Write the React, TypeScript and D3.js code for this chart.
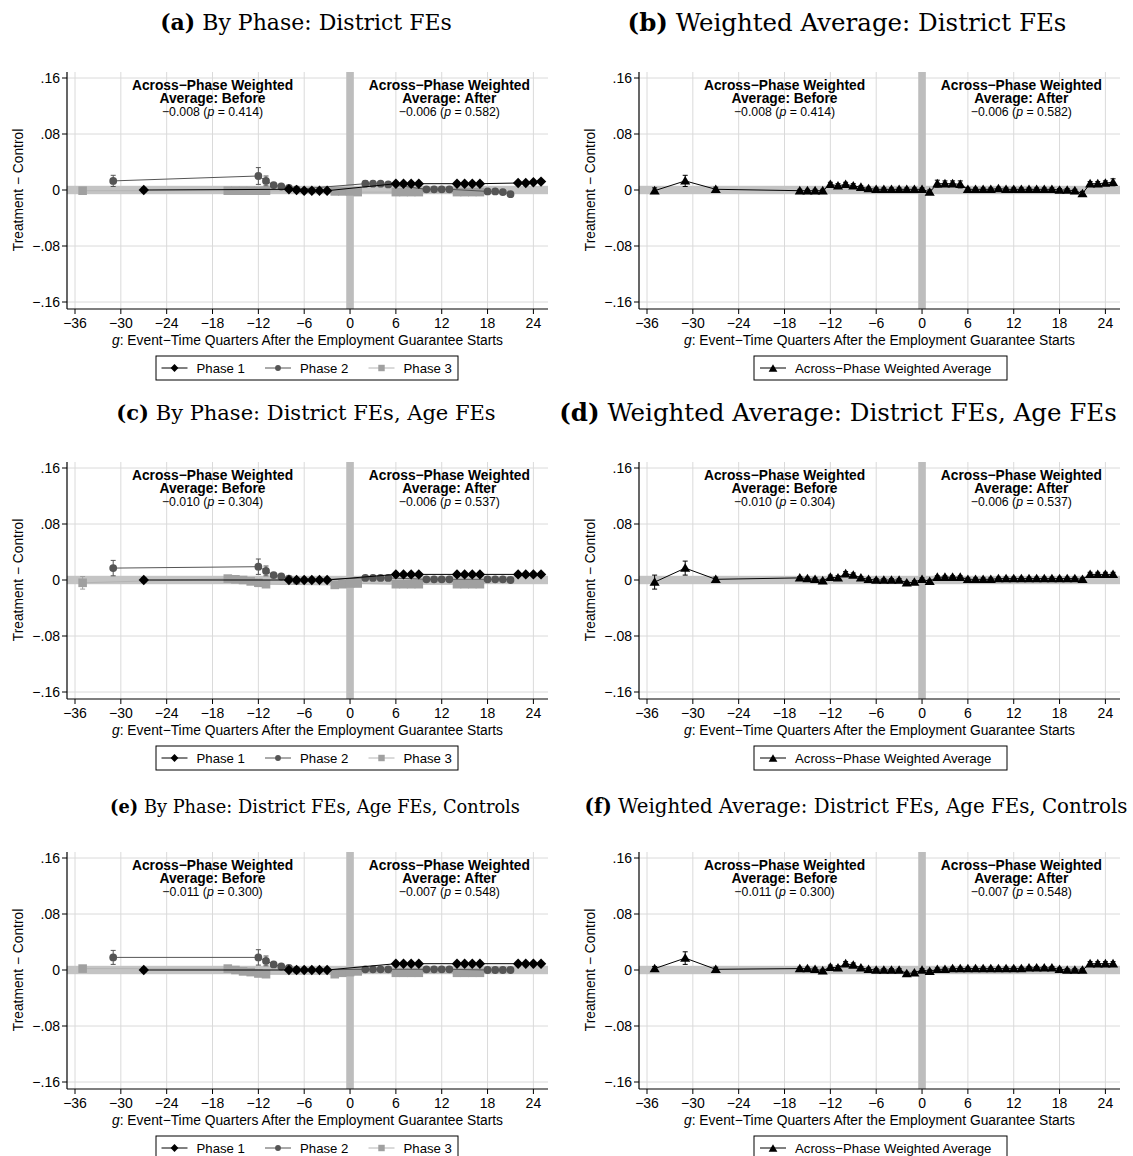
import React from "react";
import * as d3 from "d3";

const SANS = "'Liberation Sans', Arial, Helvetica, sans-serif";
const SERIF = "'DejaVu Serif', serif";

const xTicks = [-36, -30, -24, -18, -12, -6, 0, 6, 12, 18, 24];
const xTickLabels = ["−36", "−30", "−24", "−18", "−12", "−6", "0", "6", "12", "18", "24"];
const yTicks = [-0.16, -0.08, 0, 0.08, 0.16];
const yTickLabels = ["−.16", "−.08", "0", ".08", ".16"];

const phase1X = [-27, -8, -7, -6, -5, -4, -3, 6, 7, 8, 9, 14, 15, 16, 17, 22, 23, 24, 25];
const phase2X = [-31, -12, -11, -10, -9, -8, -7, 2, 3, 4, 5, 10, 11, 12, 13, 18, 19, 20, 21];
const phase3X = [-35, -16, -15, -14, -13, -12, -11, -2, -1, 0, 1, 6, 7, 8, 9, 14, 15, 16, 17];
const avgX = [-35, -31, -27, -16, -15, -14, -13, -12, -11, -10, -9, -8, -7, -6, -5, -4, -3, -2, -1, 0, 1, 2, 3, 4, 5, 6, 7, 8, 9, 10, 11, 12, 13, 14, 15, 16, 17, 18, 19, 20, 21, 22, 23, 24, 25];

// Panel (a)
const aPhase1 = [0.0, 0.001, 0.0, -0.001, -0.001, -0.001, -0.001, 0.009, 0.009, 0.009, 0.009, 0.009, 0.009, 0.009, 0.009, 0.010, 0.010, 0.011, 0.012];
const aPhase1CI = [0.003, 0.002, 0.002, 0.002, 0.002, 0.002, 0.002, 0.002, 0.002, 0.002, 0.002, 0.002, 0.002, 0.002, 0.002, 0.002, 0.002, 0.002, 0.002];
const aPhase2 = [0.013, 0.020, 0.013, 0.007, 0.005, 0.003, 0.001, 0.009, 0.009, 0.009, 0.008, 0.001, 0.001, 0.001, 0.001, -0.002, -0.002, -0.003, -0.006];
const aPhase2CI = [0.008, 0.012, 0.007, 0.003, 0.003, 0.003, 0.003, 0.004, 0.003, 0.003, 0.003, 0.002, 0.002, 0.002, 0.002, 0.002, 0.002, 0.002, 0.002];
const aPhase3 = [-0.001, -0.001, -0.001, -0.001, -0.001, -0.001, -0.001, -0.002, -0.002, -0.002, -0.003, -0.003, -0.003, -0.003, -0.003, -0.003, -0.003, -0.003, -0.003];
const aPhase3CI = [0.003, 0.002, 0.002, 0.002, 0.002, 0.002, 0.002, 0.002, 0.002, 0.002, 0.002, 0.002, 0.002, 0.002, 0.002, 0.002, 0.002, 0.002, 0.002];

// Panel (b)
const bAvg = [-0.001, 0.013, 0.001, -0.001, -0.001, -0.001, -0.001, 0.008, 0.006, 0.008, 0.006, 0.004, 0.002, 0.001, 0.001, 0.001, 0.001, 0.001, 0.001, 0.001, -0.003, 0.009, 0.009, 0.009, 0.008, 0.001, 0.001, 0.001, 0.001, 0.002, 0.001, 0.001, 0.001, 0.001, 0.001, 0.001, 0.001, 0.0, 0.0, -0.001, -0.005, 0.009, 0.009, 0.010, 0.011];
const bAvgCI = [0.004, 0.008, 0.003, 0.002, 0.002, 0.002, 0.002, 0.003, 0.003, 0.003, 0.003, 0.002, 0.002, 0.002, 0.002, 0.002, 0.002, 0.002, 0.002, 0.002, 0.003, 0.005, 0.004, 0.004, 0.005, 0.002, 0.002, 0.002, 0.002, 0.002, 0.002, 0.002, 0.002, 0.002, 0.002, 0.002, 0.002, 0.002, 0.002, 0.002, 0.003, 0.003, 0.003, 0.003, 0.005];

// Panel (c)
const cPhase1 = [0.0, 0.0, 0.0, 0.0, 0.0, 0.0, 0.0, 0.008, 0.008, 0.008, 0.008, 0.008, 0.008, 0.008, 0.008, 0.008, 0.008, 0.008, 0.008];
const cPhase1CI = [0.003, 0.002, 0.002, 0.002, 0.002, 0.002, 0.002, 0.002, 0.002, 0.002, 0.002, 0.002, 0.002, 0.002, 0.002, 0.002, 0.002, 0.002, 0.002];
const cPhase2 = [0.017, 0.019, 0.013, 0.007, 0.005, 0.002, -0.001, 0.003, 0.003, 0.003, 0.003, 0.001, 0.001, 0.001, 0.001, 0.001, 0.001, 0.001, 0.0];
const cPhase2CI = [0.011, 0.011, 0.007, 0.003, 0.003, 0.003, 0.003, 0.003, 0.002, 0.002, 0.002, 0.002, 0.002, 0.002, 0.002, 0.002, 0.002, 0.002, 0.002];
const cPhase3 = [-0.004, 0.002, 0.001, 0.0, -0.002, -0.004, -0.006, -0.007, -0.006, -0.005, -0.005, -0.006, -0.006, -0.006, -0.006, -0.006, -0.006, -0.006, -0.006];
const cPhase3CI = [0.009, 0.003, 0.002, 0.002, 0.002, 0.002, 0.002, 0.002, 0.002, 0.002, 0.002, 0.002, 0.002, 0.002, 0.002, 0.002, 0.002, 0.002, 0.002];

// Panel (d)
const dAvg = [-0.003, 0.017, 0.001, 0.003, 0.002, 0.001, -0.001, 0.004, 0.003, 0.009, 0.007, 0.003, 0.001, 0.0, 0.0, 0.0, 0.0, -0.004, -0.003, 0.001, -0.002, 0.004, 0.004, 0.004, 0.004, 0.001, 0.001, 0.001, 0.001, 0.002, 0.002, 0.002, 0.002, 0.002, 0.002, 0.002, 0.002, 0.002, 0.002, 0.002, 0.001, 0.008, 0.008, 0.008, 0.008];
const dAvgCI = [0.01, 0.01, 0.003, 0.002, 0.002, 0.002, 0.002, 0.003, 0.003, 0.003, 0.003, 0.002, 0.002, 0.002, 0.002, 0.002, 0.002, 0.002, 0.002, 0.002, 0.002, 0.002, 0.002, 0.002, 0.002, 0.002, 0.002, 0.002, 0.002, 0.002, 0.002, 0.002, 0.002, 0.002, 0.002, 0.002, 0.002, 0.002, 0.002, 0.002, 0.002, 0.003, 0.003, 0.003, 0.003];

// Panel (e)
const ePhase1 = [0.0, 0.0, 0.0, 0.0, 0.0, 0.0, 0.0, 0.009, 0.009, 0.009, 0.009, 0.009, 0.009, 0.009, 0.009, 0.009, 0.009, 0.009, 0.009];
const ePhase1CI = [0.003, 0.002, 0.002, 0.002, 0.002, 0.002, 0.002, 0.002, 0.002, 0.002, 0.002, 0.002, 0.002, 0.002, 0.002, 0.002, 0.002, 0.002, 0.002];
const ePhase2 = [0.018, 0.018, 0.013, 0.008, 0.005, 0.003, 0.0, 0.001, 0.001, 0.001, 0.001, 0.001, 0.001, 0.001, 0.001, 0.0, 0.0, 0.0, 0.0];
const ePhase2CI = [0.010, 0.011, 0.007, 0.003, 0.003, 0.003, 0.003, 0.002, 0.002, 0.002, 0.002, 0.002, 0.002, 0.002, 0.002, 0.002, 0.002, 0.002, 0.002];
const ePhase3 = [0.002, 0.002, 0.0, -0.002, -0.003, -0.005, -0.006, -0.006, -0.004, -0.003, -0.002, -0.004, -0.004, -0.004, -0.004, -0.004, -0.004, -0.004, -0.004];
const ePhase3CI = [0.003, 0.003, 0.002, 0.002, 0.002, 0.002, 0.002, 0.002, 0.002, 0.002, 0.002, 0.002, 0.002, 0.002, 0.002, 0.002, 0.002, 0.002, 0.002];

// Panel (f)
const fAvg = [0.002, 0.017, 0.001, 0.002, 0.002, 0.001, -0.001, 0.004, 0.003, 0.009, 0.007, 0.003, 0.001, 0.0, 0.0, 0.0, 0.0, -0.005, -0.004, 0.0, -0.002, 0.001, 0.001, 0.002, 0.002, 0.002, 0.002, 0.002, 0.002, 0.002, 0.002, 0.002, 0.002, 0.003, 0.003, 0.003, 0.003, 0.001, 0.0, 0.0, 0.0, 0.009, 0.009, 0.009, 0.009];
const fAvgCI = [0.003, 0.009, 0.003, 0.002, 0.002, 0.002, 0.002, 0.003, 0.003, 0.003, 0.003, 0.002, 0.002, 0.002, 0.002, 0.002, 0.002, 0.002, 0.002, 0.002, 0.002, 0.002, 0.002, 0.002, 0.002, 0.002, 0.002, 0.002, 0.002, 0.002, 0.002, 0.002, 0.002, 0.002, 0.002, 0.002, 0.002, 0.002, 0.002, 0.002, 0.002, 0.003, 0.003, 0.003, 0.003];

const titlesLetters = ["a", "b", "c", "d", "e", "f"];
const titlesText = [
  "By Phase: District FEs",
  "Weighted Average: District FEs",
  "By Phase: District FEs, Age FEs",
  "Weighted Average: District FEs, Age FEs",
  "By Phase: District FEs, Age FEs, Controls",
  "Weighted Average: District FEs, Age FEs, Controls",
];
const beforeEst = ["−0.008", "−0.010", "−0.011"];
const beforeP = ["0.414", "0.304", "0.300"];
const afterEst = ["−0.006", "−0.006", "−0.007"];
const afterP = ["0.582", "0.537", "0.548"];
const phaseNames = ["Phase 1", "Phase 2", "Phase 3"];
const avgName = "Across−Phase Weighted Average";

// title layout per panel: [center x (panel coords), baseline y, font size]
const titleLayout: [number, number, number][] = [
  [306, 30, 22],
  [275, 31, 24.5],
  [306, 30, 21],
  [266, 31, 24.5],
  [315, 33, 17.8],
  [284, 33, 19.8],
];

const PL = 67, PR = 548, PT = 72, PB = 309;
const xS = d3.scaleLinear().domain([-36, 24]).range([75, 533.4]);
const yS = d3.scaleLinear().domain([-0.16, 0.16]).range([302, 78]);

type Kind = "diamond" | "circle" | "square" | "triangle";
interface Series { xs: number[]; ys: number[]; ci: number[]; color: string; line: string; kind: Kind; size: number }

function markerPath(kind: Kind, cx: number, cy: number, s: number): string {
  if (kind === "diamond") return `M${cx},${cy - s}L${cx + s},${cy}L${cx},${cy + s}L${cx - s},${cy}Z`;
  if (kind === "square") return `M${cx - s},${cy - s}h${2 * s}v${2 * s}h${-2 * s}Z`;
  if (kind === "triangle") return `M${cx},${cy - s * 1.05}L${cx + s * 1.1},${cy + s * 0.8}L${cx - s * 1.1},${cy + s * 0.8}Z`;
  return `M${cx - s},${cy}a${s},${s} 0 1,0 ${2 * s},0a${s},${s} 0 1,0 ${-2 * s},0Z`;
}

function SeriesG({ s }: { s: Series }) {
  const line = d3.line<number>().x((_, i) => xS(s.xs[i])).y((d) => yS(d));
  return (
    <g>
      <path d={line(s.ys) || ""} fill="none" stroke={s.line} strokeWidth={1} />
      {s.ys.map((v, i) => {
        const cx = xS(s.xs[i]);
        const y1 = yS(v - s.ci[i]);
        const y2 = yS(v + s.ci[i]);
        return (
          <g key={"e" + i} stroke={s.color} strokeWidth={1}>
            <line x1={cx} x2={cx} y1={y1} y2={y2} />
            <line x1={cx - 2.5} x2={cx + 2.5} y1={y1} y2={y1} />
            <line x1={cx - 2.5} x2={cx + 2.5} y1={y2} y2={y2} />
          </g>
        );
      })}
      {s.ys.map((v, i) => (
        <path key={"m" + i} d={markerPath(s.kind, xS(s.xs[i]), yS(v), s.size)} fill={s.color} />
      ))}
    </g>
  );
}

function Panel({ ox, oy, idx, series, legend }: { ox: number; oy: number; idx: number; series: Series[]; legend: "phase" | "avg" }) {
  const row = Math.floor(idx / 2);
  const [tx, ty, tf] = titleLayout[idx];
  return (
    <g transform={`translate(${ox},${oy})`}>
      <text x={tx} y={ty} textAnchor="middle" fontFamily={SERIF} fontSize={tf} fill="#000">
        <tspan fontWeight="bold">({titlesLetters[idx]})</tspan> {titlesText[idx]}
      </text>
      {xTicks.map((t) => (
        <line key={"gx" + t} x1={xS(t)} x2={xS(t)} y1={PT} y2={PB} stroke="#dadada" strokeWidth={1} />
      ))}
      {yTicks.map((t) => (
        <line key={"gy" + t} x1={PL} x2={PR} y1={yS(t)} y2={yS(t)} stroke="#dadada" strokeWidth={1} />
      ))}
      <rect x={PL} y={yS(0.006)} width={PR - PL} height={yS(-0.006) - yS(0.006)} fill="#c4c4c4" />
      <rect x={xS(0) - 3.8} y={PT} width={7.6} height={PB - PT} fill="#bdbdbd" />
      <g fontFamily={SANS} fill="#000" textAnchor="middle">
        <text x={xS(-18)} y={90} fontSize={13.8} fontWeight="bold">Across−Phase Weighted</text>
        <text x={xS(-18)} y={103} fontSize={13.8} fontWeight="bold">Average: Before</text>
        <text x={xS(-18)} y={115.5} fontSize={12.3}>{beforeEst[row]} (<tspan fontStyle="italic">p</tspan> = {beforeP[row]})</text>
        <text x={xS(13)} y={90} fontSize={13.8} fontWeight="bold">Across−Phase Weighted</text>
        <text x={xS(13)} y={103} fontSize={13.8} fontWeight="bold">Average: After</text>
        <text x={xS(13)} y={115.5} fontSize={12.3}>{afterEst[row]} (<tspan fontStyle="italic">p</tspan> = {afterP[row]})</text>
      </g>
      {series.map((s, i) => <SeriesG key={i} s={s} />)}
      <line x1={PL} x2={PL} y1={PT} y2={PB} stroke="#000" strokeWidth={1.2} />
      <line x1={PL} x2={PR} y1={PB} y2={PB} stroke="#000" strokeWidth={1.2} />
      {yTicks.map((t, i) => (
        <g key={"yt" + t}>
          <line x1={PL - 5} x2={PL} y1={yS(t)} y2={yS(t)} stroke="#000" />
          <text x={PL - 7} y={yS(t) + 5} textAnchor="end" fontFamily={SANS} fontSize={14}>{yTickLabels[i]}</text>
        </g>
      ))}
      {xTicks.map((t, i) => (
        <g key={"xt" + t}>
          <line x1={xS(t)} x2={xS(t)} y1={PB} y2={PB + 5} stroke="#000" />
          <text x={xS(t)} y={PB + 19} textAnchor="middle" fontFamily={SANS} fontSize={14}>{xTickLabels[i]}</text>
        </g>
      ))}
      <text transform={`translate(23,${yS(0)}) rotate(-90)`} textAnchor="middle" fontFamily={SANS} fontSize={13.8}>Treatment − Control</text>
      <text x={(PL + PR) / 2} y={345} textAnchor="middle" fontFamily={SANS} fontSize={13.8}>
        <tspan fontStyle="italic">g</tspan>: Event−Time Quarters After the Employment Guarantee Starts
      </text>
      {legend === "phase" ? (
        <g>
          <rect x={156} y={356} width={302} height={24} fill="#fff" stroke="#000" strokeWidth={1} />
          {series.slice().reverse().map((s, i) => {
            const lx = [161.5, 265, 368.5][i];
            return (
              <g key={"lg" + i}>
                <line x1={lx} x2={lx + 26} y1={368} y2={368} stroke={s.line} strokeWidth={1} />
                <path d={markerPath(s.kind, lx + 13, 368, s.size * 0.75)} fill={s.color} />
                <text x={lx + 35} y={372.5} fontFamily={SANS} fontSize={13.2}>{phaseNames[i]}</text>
              </g>
            );
          })}
        </g>
      ) : (
        <g>
          <rect x={182} y={356} width={253} height={24} fill="#fff" stroke="#000" strokeWidth={1} />
          <line x1={188} x2={214} y1={368} y2={368} stroke="#000" strokeWidth={1} />
          <path d={markerPath("triangle", 201, 368.5, 4)} fill="#000" />
          <text x={223} y={372.5} fontFamily={SANS} fontSize={13.2}>{avgName}</text>
        </g>
      )}
    </g>
  );
}

function phaseSeries(p1: number[], c1: number[], p2: number[], c2: number[], p3: number[], c3: number[]): Series[] {
  return [
    { xs: phase3X, ys: p3, ci: c3, color: "#a0a0a0", line: "#b4b4b4", kind: "square", size: 4.3 },
    { xs: phase2X, ys: p2, ci: c2, color: "#555555", line: "#555555", kind: "circle", size: 3.9 },
    { xs: phase1X, ys: p1, ci: c1, color: "#000000", line: "#000000", kind: "diamond", size: 5.2 },
  ];
}
function avgSeries(v: number[], c: number[]): Series[] {
  return [{ xs: avgX, ys: v, ci: c, color: "#000000", line: "#000000", kind: "triangle", size: 4.6 }];
}

export default function App() {
  const ROW = 390;
  const COL = 572;
  return (
    <svg width={1133} height={1156} style={{ position: "absolute", left: 0, top: 0, display: "block", background: "#fff" }}>
      <rect width={1133} height={1156} fill="#fff" />
      <Panel ox={0} oy={0} idx={0} series={phaseSeries(aPhase1, aPhase1CI, aPhase2, aPhase2CI, aPhase3, aPhase3CI)} legend="phase" />
      <Panel ox={COL} oy={0} idx={1} series={avgSeries(bAvg, bAvgCI)} legend="avg" />
      <Panel ox={0} oy={ROW} idx={2} series={phaseSeries(cPhase1, cPhase1CI, cPhase2, cPhase2CI, cPhase3, cPhase3CI)} legend="phase" />
      <Panel ox={COL} oy={ROW} idx={3} series={avgSeries(dAvg, dAvgCI)} legend="avg" />
      <Panel ox={0} oy={2 * ROW} idx={4} series={phaseSeries(ePhase1, ePhase1CI, ePhase2, ePhase2CI, ePhase3, ePhase3CI)} legend="phase" />
      <Panel ox={COL} oy={2 * ROW} idx={5} series={avgSeries(fAvg, fAvgCI)} legend="avg" />
    </svg>
  );
}
